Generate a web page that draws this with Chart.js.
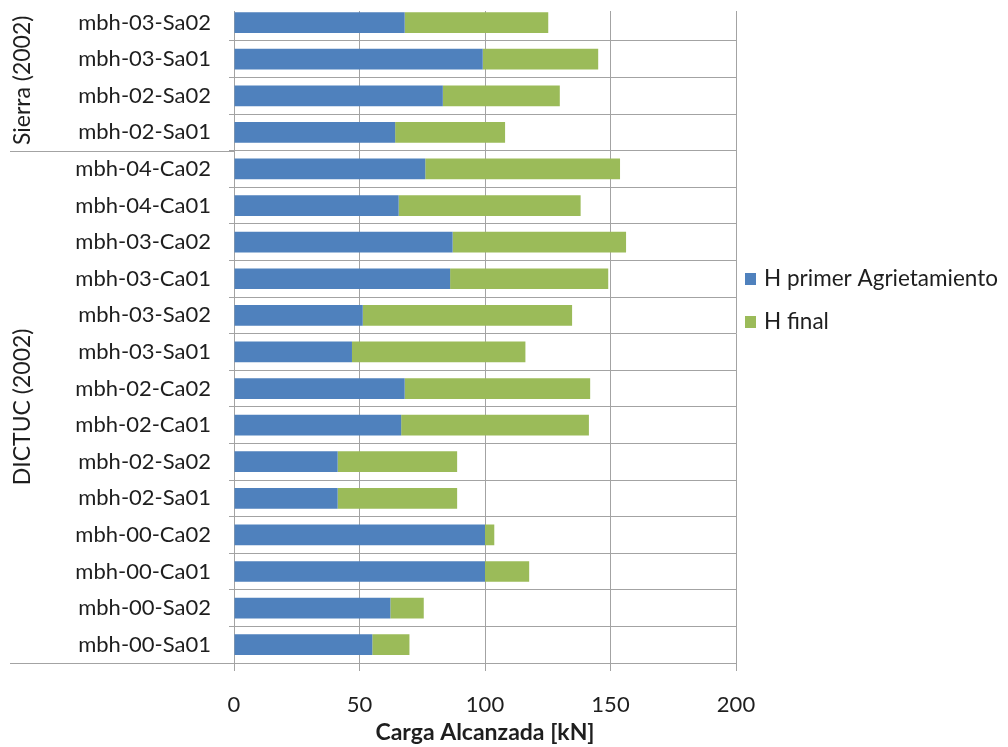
<!DOCTYPE html>
<html>
<head>
<meta charset="utf-8">
<script src="https://cdn.jsdelivr.net/npm/chart.js@4"></script>
<style>
  html, body { margin: 0; padding: 0; background: #ffffff; }
  #wrap { width: 1008px; height: 747px; position: relative; }
</style>
</head>
<body>
<div id="wrap"><canvas id="c" width="1008" height="747"></canvas></div>
<script>
// ---- Data ----
const categories = ['mbh-03-Sa02', 'mbh-03-Sa01', 'mbh-02-Sa02', 'mbh-02-Sa01',
  'mbh-04-Ca02', 'mbh-04-Ca01', 'mbh-03-Ca02', 'mbh-03-Ca01', 'mbh-03-Sa02', 'mbh-03-Sa01',
  'mbh-02-Ca02', 'mbh-02-Ca01', 'mbh-02-Sa02', 'mbh-02-Sa01', 'mbh-00-Ca02', 'mbh-00-Ca01',
  'mbh-00-Sa02', 'mbh-00-Sa01'];
const hPrimer = [68.0, 99.1, 83.2, 64.2, 76.2, 65.6, 87.1, 86.1, 51.3, 47.0, 68.0, 66.6, 41.3, 41.3, 100.0, 100.0, 62.3, 55.1];
const hFinal  = [125.2, 145.1, 129.8, 108.0, 153.8, 138.1, 156.2, 149.1, 134.7, 116.1, 141.9, 141.4, 88.9, 88.9, 103.7, 117.6, 75.6, 69.9];
const seriesNames = ['H primer Agrietamiento', 'H final'];
const groupLabels = ['Sierra (2002)', 'DICTUC (2002)'];
const groupFirst = [0, 4];
const groupLast = [3, 17];
const xTicks = [0, 50, 100, 150, 200];
const xTitle = 'Carga Alcanzada [kN]';

const FONT = 'Lato, "Open Sans", sans-serif';
const GRID = '#a3a3a3';
const TEXT = '#1e1e1e';

// H final drawn as the continuation of the H primer bar (total = hFinal)
const hFinalPart = hFinal.map((v, i) => v - hPrimer[i]);

const groupPlugin = {
  id: 'groups',
  afterDraw(chart) {
    const y = chart.scales.y;
    const ctx = chart.ctx;
    const half = (y.getPixelForValue(1) - y.getPixelForValue(0)) / 2;
    ctx.save();
    // the reference image is cut just above the first bar
    ctx.fillStyle = '#ffffff';
    ctx.fillRect(225, 0, 520, 11);
    ctx.strokeStyle = GRID;
    ctx.lineWidth = 1;
    for (let g = 0; g < groupLabels.length; g++) {
      const top = y.getPixelForValue(groupFirst[g]) - half;
      const bot = y.getPixelForValue(groupLast[g]) + half;
      ctx.beginPath();
      ctx.moveTo(10, Math.round(bot) + 0.5);
      ctx.lineTo(y.right, Math.round(bot) + 0.5);
      ctx.stroke();
      ctx.save();
      ctx.translate(23, (Math.max(top, 10) + bot) / 2);
      ctx.rotate(-Math.PI / 2);
      ctx.fillStyle = TEXT;
      ctx.font = '23px ' + FONT;
      ctx.textAlign = 'center';
      ctx.textBaseline = 'middle';
      ctx.fillText(groupLabels[g], 0, 0);
      ctx.restore();
    }
    // legend
    const ds = chart.data.datasets;
    for (let i = 0; i < ds.length; i++) {
      const cy = 279 + i * 43;
      ctx.fillStyle = ds[i].backgroundColor;
      ctx.fillRect(745, cy - 6, 11, 12);
      ctx.fillStyle = TEXT;
      ctx.font = '22.5px ' + FONT;
      ctx.textAlign = 'left';
      ctx.textBaseline = 'middle';
      ctx.fillText(ds[i].label, 764, cy);
    }
    ctx.restore();
  }
};

new Chart(document.getElementById('c'), {
  type: 'bar',
  data: {
    labels: categories,
    datasets: [
      { label: seriesNames[0], data: hPrimer, backgroundColor: '#4F81BD', borderWidth: 0 },
      { label: seriesNames[1], data: hFinalPart, backgroundColor: '#9BBB59', borderWidth: 0 }
    ]
  },
  options: {
    indexAxis: 'y',
    responsive: false,
    animation: false,
    devicePixelRatio: 1,
    layout: { padding: { top: 4.3, right: 272, left: 0, bottom: 0 } },
    datasets: { bar: { categoryPercentage: 1, barPercentage: 0.566 } },
    plugins: { legend: { display: false }, tooltip: { enabled: false } },
    scales: {
      x: {
        stacked: true,
        min: 0, max: 200,
        afterBuildTicks(scale) { scale.ticks = xTicks.map(v => ({ value: v })); },
        afterFit(scale) { scale.height = 84; },
        grid: { color: GRID, lineWidth: 1, tickLength: 8, drawTicks: true },
        border: { color: GRID, width: 1 },
        ticks: { font: { family: FONT, size: 22 }, color: TEXT, padding: 21, maxRotation: 0 },
        title: { display: true, text: xTitle, font: { family: FONT, size: 23, weight: 'bold' }, color: TEXT, padding: { top: 0, bottom: 1 } }
      },
      y: {
        stacked: true,
        afterFit(scale) { scale.width = 234; scale.paddingTop = 0; scale.paddingBottom = 0; },
        grid: {
          offset: true,
          color: (c) => (c.index === 0 ? 'rgba(0,0,0,0)' : GRID),
          lineWidth: 1,
          tickLength: 5
        },
        border: { color: GRID, width: 1 },
        ticks: { font: { family: FONT, size: 22 }, color: TEXT, padding: 18, autoSkip: false }
      }
    }
  },
  plugins: [groupPlugin]
});
</script>
</body>
</html>
